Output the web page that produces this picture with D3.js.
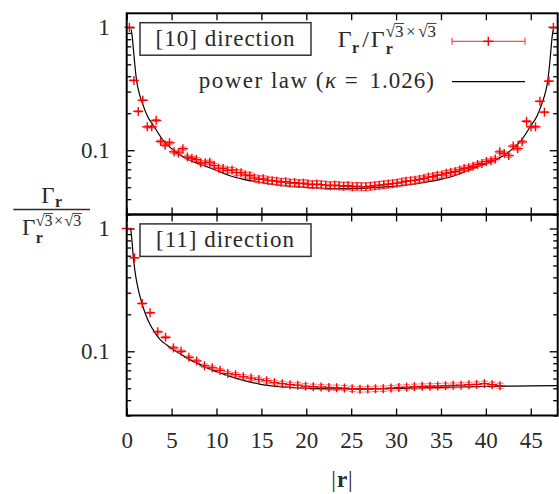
<!DOCTYPE html>
<html><head><meta charset="utf-8">
<script src="https://cdn.jsdelivr.net/npm/d3@7"></script>
<style>body{margin:0;background:#fff} text{white-space:pre}</style></head>
<body><svg id="c" width="559" height="494"></svg>
<script>
// ---------- DATA ----------
// [10] direction
const rTop=[0.30,0.80,1.29,1.79,2.29,2.79,3.28,3.78,4.28,4.77,5.27,5.77,6.26,6.76,7.26,7.76,8.25,8.75,9.25,9.74,
10.24,10.74,11.23,11.73,12.23,12.73,13.22,13.72,14.22,14.71,15.21,15.71,16.20,16.70,17.20,17.70,18.19,18.69,19.19,19.68,
20.18,20.68,21.17,21.67,22.17,22.67,23.16,23.66,24.16,24.65,25.15,25.65,26.14,26.64,27.14,27.64,28.13,28.63,29.13,29.62,
30.12,30.62,31.11,31.61,32.11,32.61,33.10,33.60,34.10,34.59,35.09,35.59,36.08,36.58,37.08,37.58,38.07,38.57,39.07,39.56,
40.06,40.56,41.05,41.55,42.05,42.55,43.04,43.54,44.04,44.53,45.03,45.53,46.02,46.52,47.02,47.52];
const gTop=[1.0,0.37,0.207,0.255,0.155,0.155,0.175,0.118,0.11,0.115,0.097,0.095,0.103,0.088,0.086,0.084,0.079,0.079,0.080,0.075,
0.0715,0.071,0.0685,0.069,0.066,0.0655,0.063,0.062,0.0595,0.058,0.0585,0.057,0.0565,0.056,0.055,0.0555,0.054,0.0545,0.0535,0.054,
0.053,0.0525,0.053,0.0525,0.052,0.0515,0.052,0.0515,0.051,0.0515,0.0505,0.051,0.0505,0.0505,0.051,0.0515,0.052,0.0525,0.053,0.0535,
0.054,0.055,0.056,0.0565,0.057,0.058,0.059,0.0605,0.061,0.0625,0.063,0.065,0.066,0.067,0.069,0.071,0.072,0.074,0.0765,0.078,
0.081,0.082,0.085,0.097,0.094,0.0905,0.108,0.103,0.117,0.172,0.155,0.155,0.25,0.204,0.365,1.0];
const eTop=[0.002,0.002,0.002,0.002,0.003,0.003,0.003,0.003,0.003,0.003,0.003,0.003,0.003,0.003,0.003,0.003,0.003,0.0032,0.0032,0.0032,
0.0033,0.0033,0.0034,0.0034,0.0034,0.0035,0.0035,0.0035,0.0035,0.0036,0.0035,0.0036,0.0035,0.0036,0.0035,0.0036,0.0036,0.0035,0.0036,0.0036,
0.0036,0.0035,0.0036,0.0036,0.0037,0.0036,0.0036,0.0037,0.0036,0.0036,0.0037,0.0036,0.0036,0.0037,0.0036,0.0036,0.0036,0.0037,0.0036,0.0036,
0.0036,0.0036,0.0036,0.0035,0.0036,0.0035,0.0035,0.0035,0.0035,0.0035,0.0034,0.0034,0.0034,0.0034,0.0034,0.0033,0.0033,0.0033,0.0033,0.0032,
0.0032,0.0032,0.0031,0.003,0.003,0.003,0.003,0.003,0.003,0.003,0.003,0.003,0.002,0.002,0.002,0.002];
// [11] direction
const rBot=[0,0.87,1.73,2.60,3.46,4.33,5.20,6.06,6.93,7.79,8.66,9.53,10.39,11.26,12.12,12.99,13.86,14.72,15.59,16.45,
17.32,18.19,19.05,19.92,20.78,21.65,22.52,23.38,24.25,25.11,25.98,26.85,27.71,28.58,29.44,30.31,31.18,32.04,32.91,33.77,
34.64,35.51,36.37,37.24,38.11,38.97,39.84,40.70,41.57];
const gBot=[1.0,0.577,0.245,0.206,0.144,0.13,0.1066,0.1,0.0893,0.0835,0.0762,0.0734,0.070,0.066,0.0645,0.062,0.0605,0.059,0.0575,0.0555,
0.0545,0.0535,0.053,0.052,0.0515,0.0512,0.0508,0.0505,0.0502,0.0495,0.049,0.0492,0.0495,0.0496,0.0502,0.0508,0.051,0.0515,0.0518,0.052,
0.0522,0.0525,0.0528,0.053,0.0535,0.0538,0.0545,0.0535,0.0525];
const eBot=[0.002,0.002,0.002,0.002,0.0025,0.0025,0.0025,0.0025,0.0025,0.0025,0.0025,0.0025,0.0025,0.0025,0.0025,0.0025,0.0025,0.0025,0.0025,0.0025,
0.0025,0.0025,0.0025,0.0025,0.0025,0.0025,0.0025,0.0025,0.0025,0.0025,0.0025,0.0025,0.0025,0.0025,0.0025,0.0025,0.0025,0.0025,0.0025,0.0025,
0.0025,0.0025,0.0025,0.0025,0.0025,0.0025,0.0025,0.0025,0.0025];
// power-law fit curves
const fitTopR=[0.5,0.6,0.75,0.9,1.1,1.4,1.8,2.3,3.0,4.0,5.0,6.0,7.0,8.5,10,11.5,13,15,17.5,20,22,24,26,28,30.5,33,35,36.5,38,39.5,41,42,43,44,45,45.7,46.2,46.6,46.9,47.1,47.25,47.4,47.5];
const fitTopV=[0.96,0.86,0.66,0.5,0.37,0.29,0.235,0.19,0.158,0.122,0.103,0.091,0.083,0.0755,0.0685,0.062,0.058,0.0545,0.0515,0.0498,0.049,0.0487,0.049,0.0498,0.0515,0.0545,0.058,0.062,0.0685,0.0755,0.083,0.091,0.103,0.122,0.158,0.19,0.235,0.29,0.37,0.5,0.66,0.86,0.96];
const fitBotR=[0.45,0.55,0.74,0.9,1.1,1.4,1.7,2.1,2.6,3.2,3.7,4.5,5.2,6,6.7,8,9,10.4,11.5,13,14.8,17,19.3,21.5,23.7,26,28,30.4,33,36,39,42,45,48];
const fitBotV=[1.0,0.85,0.58,0.46,0.372,0.295,0.245,0.2,0.165,0.14,0.125,0.112,0.103,0.095,0.088,0.079,0.073,0.0666,0.0625,0.058,0.054,0.0515,0.0503,0.0497,0.0494,0.0494,0.0496,0.0499,0.0504,0.051,0.0515,0.052,0.0523,0.0525];

const xTicks=[0,5,10,15,20,25,30,35,40,45];
const yMajor=[0.1,1];
const yMinor=[0.03,0.04,0.05,0.06,0.07,0.08,0.09,0.2,0.3,0.4,0.5,0.6,0.7,0.8,0.9];
const xDomain=[0,48], yDomain=[0.03,1.3];
const panelNames=["[10] direction","[11] direction"];
const kappa="1.026";
const xLabelTicks=["0","5","10","15","20","25","30","35","40","45"];

// ---------- LAYOUT ----------
const FONT="'Liberation Serif','DejaVu Serif',serif";
const TXT="#2a2a2a";
const svg=d3.select("#c");
const L=126.7,R=557.7;
const panels=[{t:13.3,b:214.5,r:rTop,g:gTop,e:eTop,fr:fitTopR,fv:fitTopV},
              {t:214.5,b:415.5,r:rBot,g:gBot,e:eBot,fr:fitBotR,fv:fitBotV}];
const x=d3.scaleLinear().domain(xDomain).range([L,R]);
const RED="#ff0000", PINK="#ff4d4d";

function styleAxis(g){
  g.select(".domain").remove();
  g.selectAll(".tick line").attr("stroke","#000").attr("stroke-width",1.3);
  g.selectAll(".tick text").attr("fill",TXT).attr("font-family",FONT).style("font-family",FONT).style("font-size","23px");
}

panels.forEach((p,i)=>{
  const y=d3.scaleLog().domain(yDomain).range([p.b,p.t]);
  const g=svg.append("g");
  const cid="clip"+i;
  svg.append("clipPath").attr("id",cid).append("rect").attr("x",L).attr("y",p.t).attr("width",R-L).attr("height",p.b-p.t);

  const last=i===1;
  g.append("g").attr("transform",`translate(0,${p.b})`)
   .call(d3.axisBottom(x).tickValues(xTicks).tickSize(-7).tickPadding(16)
     .tickFormat((d,j)=>last?xLabelTicks[j]:"")).call(styleAxis);
  g.append("g").attr("transform",`translate(0,${p.t})`)
   .call(d3.axisTop(x).tickValues(xTicks).tickSize(-7).tickFormat("")).call(styleAxis);
  g.append("g").attr("transform",`translate(${L},0)`)
   .call(d3.axisLeft(y).tickValues(yMajor).tickSize(-8).tickPadding(17).tickFormat(d=>d===1?"1":"0.1")).call(styleAxis);
  g.append("g").attr("transform",`translate(${L},0)`)
   .call(d3.axisLeft(y).tickValues(yMinor).tickSize(-4.5).tickFormat("")).call(styleAxis);
  g.append("g").attr("transform",`translate(${R},0)`)
   .call(d3.axisRight(y).tickValues(yMajor).tickSize(-8).tickFormat("")).call(styleAxis);
  g.append("g").attr("transform",`translate(${R},0)`)
   .call(d3.axisRight(y).tickValues(yMinor).tickSize(-4.5).tickFormat("")).call(styleAxis);

  // fit curve
  const fit=d3.range(p.fr.length).map(k=>[p.fr[k],p.fv[k]]);
  g.append("path").datum(fit).attr("clip-path",`url(#${cid})`)
   .attr("d",d3.line().x(d=>x(d[0])).y(d=>y(d[1])).curve(d3.curveMonotoneX))
   .attr("fill","none").attr("stroke","#000").attr("stroke-width",1.2);

  // data with error bars
  const pts=d3.range(p.r.length).map(k=>({r:p.r[k],v:p.g[k],e:p.e[k]}));
  const eg=g.append("g").attr("stroke",PINK).attr("stroke-width",1.1).attr("stroke-opacity",0.8);
  pts.forEach(d=>{
    const cx=x(d.r), y1=y(d.v-d.e), y2=y(d.v+d.e);
    eg.append("line").attr("x1",cx).attr("x2",cx).attr("y1",y1).attr("y2",y2);
    eg.append("line").attr("x1",cx-3.5).attr("x2",cx+3.5).attr("y1",y1).attr("y2",y1);
    eg.append("line").attr("x1",cx-3.5).attr("x2",cx+3.5).attr("y1",y2).attr("y2",y2);
  });
  const pg=g.append("g").attr("stroke",RED).attr("stroke-width",1.4);
  pts.forEach(d=>{
    const cx=x(d.r), cy=y(d.v);
    pg.append("line").attr("x1",cx-5).attr("x2",cx+5).attr("y1",cy).attr("y2",cy);
    pg.append("line").attr("x1",cx).attr("x2",cx).attr("y1",cy-4.5).attr("y2",cy+4.5);
  });

  // frame
  g.append("rect").attr("x",L).attr("y",p.t).attr("width",R-L).attr("height",p.b-p.t)
   .attr("fill","none").attr("stroke","#000").attr("stroke-width",2);

  // direction box
  const bx=140, by=p.t+9.4, bw=171, bh=32.5;
  g.append("rect").attr("x",bx).attr("y",by).attr("width",bw).attr("height",bh)
   .attr("fill","#fff").attr("stroke","#333").attr("stroke-width",1.5);
  g.append("text").attr("x",bx+bw/2).attr("y",by+23.5).attr("text-anchor","middle")
   .attr("font-family",FONT).style("font-family",FONT).style("font-size","23px").style("letter-spacing","1px").attr("fill",TXT)
   .text(panelNames[i]);
});

// ---------- rich text helper ----------
function rich(parent,x0,y0,parts,anchor){
  const grp=parent.append("g");
  let cx=0, stackX=null, stackW=0;
  parts.forEach(p=>{
    const t=grp.append("text").attr("y",p.dy||0)
      .attr("font-family",FONT).style("font-family",FONT).style("font-size",(p.size||23)+"px").attr("fill",TXT)
      .style("font-weight",p.bold?"bold":"normal").style("font-style",p.italic?"italic":"normal")
      .style("letter-spacing",(p.ls||0)+"px").text(p.t);
    let px=cx+(p.dx||0);
    if(p.stack==="start"){stackX=px;}
    if(p.stack==="next"){px=stackX;}
    t.attr("x",px);
    const w=t.node().getComputedTextLength();
    if(p.over){ // radical overline
      const oy=(p.dy||0)-(p.size||23)*0.78;
      grp.append("line").attr("x1",px-0.5).attr("x2",px+w+0.5).attr("y1",oy).attr("y2",oy)
        .attr("stroke",TXT).attr("stroke-width",0.9);
    }
    if(p.stack==="start"){stackW=w; cx=px+w;}
    else if(p.stack==="next"){cx=stackX+Math.max(stackW,w);}
    else cx=px+w;
  });
  const total=cx;
  let tx=x0;
  if(anchor==="end") tx=x0-total;
  if(anchor==="middle") tx=x0-total/2;
  grp.attr("transform",`translate(${tx},${y0})`);
  return grp;
}
const sup=(t,o)=>Object.assign({t,size:16,dy:-9},o||{});
const sup2=(t,o)=>Object.assign({t,size:17,dy:-10},o||{});
// legend line 1: Γr / Γr^{√3×√3}
rich(svg,436,46.7,[
  {t:"Γ",size:24},{t:"r",size:16,bold:true,dy:6,dx:0.5},{t:"/",dx:3,size:24},{t:"Γ",dx:2,size:24},
  sup2("√",{stack:"start",dx:1}),{t:"r",size:16,bold:true,dy:7,stack:"next"},
  sup2("3",{over:true}),sup2("×",{dx:2.5}),sup2("√",{dx:2.5}),sup2("3",{over:true})
],"end");
// legend line 2
rich(svg,435,88,[
  {t:"power law (",ls:1.5},{t:"κ",italic:true},{t:"\u00a0=\u00a0",ls:3},{t:"1.026)",ls:1.0}
],"end");
// legend samples
const lg=svg.append("g");
lg.append("line").attr("x1",452).attr("x2",525).attr("y1",41.3).attr("y2",41.3).attr("stroke",PINK).attr("stroke-width",1.2);
[452,525].forEach(xx=>lg.append("line").attr("x1",xx).attr("x2",xx).attr("y1",37.8).attr("y2",44.8).attr("stroke",PINK).attr("stroke-width",1.2));
lg.append("line").attr("x1",483.3).attr("x2",493.3).attr("y1",41.3).attr("y2",41.3).attr("stroke",RED).attr("stroke-width",1.5);
lg.append("line").attr("x1",488.3).attr("x2",488.3).attr("y1",36.8).attr("y2",45.8).attr("stroke",RED).attr("stroke-width",1.5);
lg.append("line").attr("x1",452).attr("x2",525).attr("y1",81.7).attr("y2",81.7).attr("stroke","#000").attr("stroke-width",1.2);

// y label fraction
rich(svg,51.6,203,[{t:"Γ"},{t:"r",size:16,bold:true,dy:4,dx:0.5}],"middle");
svg.append("line").attr("x1",13.3).attr("x2",90).attr("y1",209.5).attr("y2",209.5).attr("stroke",TXT).attr("stroke-width",1.5);
rich(svg,51.6,235,[
  {t:"Γ"},
  sup("√",{stack:"start",dx:0.5}),{t:"r",size:16,bold:true,dy:8,stack:"next"},
  sup("3",{over:true}),sup("×",{dx:1.5}),sup("√",{dx:1.5}),sup("3",{over:true})
],"middle");

// x label |r|
rich(svg,342,487,[{t:"|"},{t:"r",bold:true,dx:1},{t:"|",dx:1}],"middle");
</script></body></html>
